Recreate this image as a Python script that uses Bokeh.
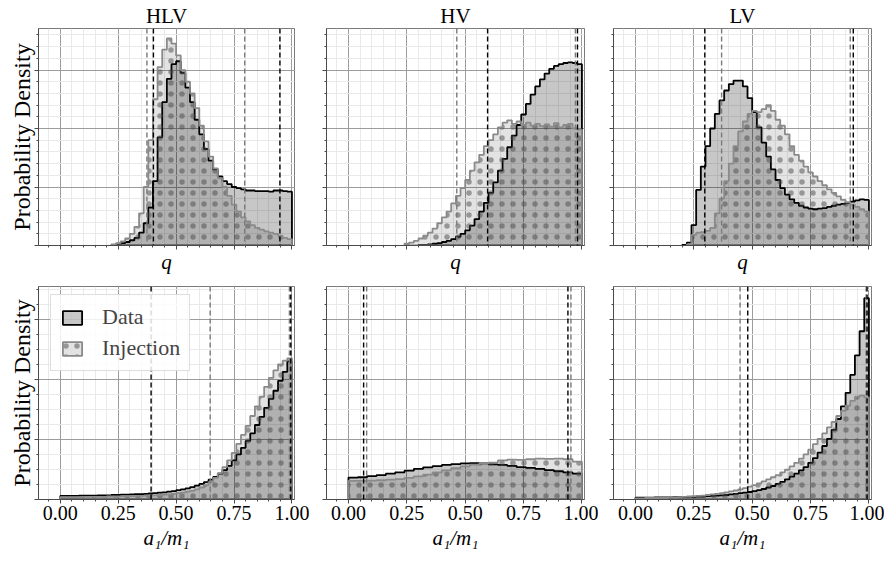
from bokeh.plotting import figure
from bokeh.layouts import row, column
from bokeh.models import (Range1d, FixedTicker, NumeralTickFormatter, Span,
                          Legend, LegendItem)
from bokeh.embed import file_html
from bokeh.resources import INLINE

FONT = "Liberation Serif"

# ---------------- data (bin heights, probability density) ----------------
Q_BIN = 0.02
A_BIN = 0.02
HV_A_BIN = 0.04

hlv_q_data = [0.02, 0.04, 0.06, 0.09, 0.13, 0.22, 0.38, 0.65, 1.10, 1.85,
              2.45, 2.85, 3.10, 3.15, 2.95, 2.70, 2.45, 2.15, 1.90, 1.65,
              1.45, 1.30, 1.18, 1.10, 1.05, 1.00, 0.98, 0.96, 0.94, 0.94,
              0.93, 0.93, 0.93, 0.92, 0.94, 0.94, 0.93, 0.92]
hlv_q_inj = [0.02, 0.04, 0.07, 0.12, 0.20, 0.32, 0.55, 1.00, 1.80, 2.50,
             3.05, 3.35, 3.54, 3.45, 3.25, 3.00, 2.80, 2.60, 2.35, 2.05,
             1.78, 1.52, 1.32, 1.15, 1.00, 0.85, 0.70, 0.58, 0.48, 0.41,
             0.35, 0.30, 0.27, 0.24, 0.22, 0.20, 0.17, 0.13, 0.11]

hv_q_data = [0.01, 0.01, 0.02, 0.03, 0.04, 0.06, 0.08, 0.11, 0.15, 0.20,
             0.26, 0.34, 0.45, 0.58, 0.73, 0.90, 1.08, 1.28, 1.48, 1.68,
             1.88, 2.06, 2.24, 2.42, 2.58, 2.72, 2.84, 2.94, 3.02, 3.07,
             3.10, 3.12, 3.13, 3.12, 3.10]
hv_q_inj = [0.03, 0.05, 0.08, 0.12, 0.17, 0.22, 0.29, 0.38, 0.48, 0.58,
            0.72, 0.85, 0.98, 1.12, 1.28, 1.42, 1.55, 1.70, 1.80, 1.90,
            2.02, 2.10, 2.14, 2.08, 2.12, 2.06, 2.10, 2.05, 2.08, 2.04,
            2.07, 2.03, 2.09, 2.02, 2.06, 2.08, 2.00, 1.98]

lv_q_data = [0.01, 0.05, 0.35, 0.95, 1.35, 1.70, 2.00, 2.25, 2.48, 2.65,
             2.76, 2.82, 2.82, 2.72, 2.52, 2.28, 2.02, 1.76, 1.52, 1.30,
             1.12, 0.98, 0.87, 0.79, 0.73, 0.68, 0.65, 0.63, 0.62, 0.63,
             0.64, 0.66, 0.68, 0.70, 0.71, 0.73, 0.75, 0.77, 0.79, 0.78]
lv_q_inj = [0.02, 0.18, 0.22, 0.23, 0.25, 0.30, 0.55, 0.80, 1.10, 1.40,
            1.70, 1.95, 2.12, 2.25, 2.30, 2.28, 2.33, 2.40, 2.30, 2.15,
            2.05, 1.90, 1.70, 1.55, 1.45, 1.35, 1.25, 1.18, 1.10, 1.03,
            0.96, 0.90, 0.84, 0.78, 0.74, 0.70, 0.66, 0.62, 0.58]

hlv_a_data = [0.12, 0.12, 0.12, 0.12, 0.13, 0.13, 0.13, 0.13, 0.14, 0.14,
              0.14, 0.15, 0.15, 0.16, 0.16, 0.17, 0.18, 0.18, 0.19, 0.20,
              0.21, 0.23, 0.24, 0.26, 0.28, 0.31, 0.34, 0.37, 0.41, 0.46,
              0.52, 0.58, 0.66, 0.75, 0.86, 0.98, 1.12, 1.30, 1.50, 1.72,
              1.95, 2.20, 2.48, 2.75, 3.05, 3.35, 3.62, 3.95, 4.25, 4.60]
hlv_a_inj = [0.08, 0.08, 0.08, 0.08, 0.08, 0.09, 0.09, 0.09, 0.09, 0.09,
             0.10, 0.10, 0.10, 0.11, 0.11, 0.11, 0.12, 0.12, 0.13, 0.13,
             0.14, 0.15, 0.16, 0.17, 0.19, 0.21, 0.23, 0.26, 0.29, 0.34,
             0.40, 0.48, 0.58, 0.72, 0.88, 1.08, 1.30, 1.55, 1.85, 2.15,
             2.45, 2.78, 3.10, 3.42, 3.75, 4.05, 4.30, 4.50, 4.62, 4.70]

hv_a_data = [0.73, 0.74, 0.78, 0.81, 0.86, 0.90, 0.96, 1.02, 1.07, 1.11,
             1.15, 1.18, 1.20, 1.21, 1.20, 1.17, 1.15, 1.12, 1.08, 1.05,
             1.02, 0.98, 0.94, 0.90, 0.86]
hv_a_inj = [0.62, 0.62, 0.63, 0.64, 0.66, 0.68, 0.72, 0.77, 0.83, 0.90,
            0.97, 1.04, 1.10, 1.16, 1.20, 1.23, 1.30, 1.33, 1.32, 1.34,
            1.36, 1.35, 1.36, 1.34, 1.26]

lv_a_data = [0.06, 0.06, 0.06, 0.06, 0.07, 0.07, 0.07, 0.07, 0.08, 0.08,
             0.08, 0.09, 0.09, 0.10, 0.10, 0.11, 0.12, 0.13, 0.14, 0.15,
             0.17, 0.19, 0.21, 0.23, 0.25, 0.28, 0.31, 0.35, 0.40, 0.45,
             0.52, 0.59, 0.67, 0.76, 0.86, 0.97, 1.08, 1.22, 1.38, 1.56,
             1.78, 2.02, 2.32, 2.68, 3.10, 3.55, 4.15, 4.80, 5.60, 6.70]
lv_a_inj = [0.04, 0.04, 0.05, 0.05, 0.05, 0.06, 0.06, 0.07, 0.07, 0.08,
            0.09, 0.10, 0.11, 0.12, 0.13, 0.15, 0.17, 0.19, 0.21, 0.24,
            0.27, 0.30, 0.34, 0.38, 0.43, 0.48, 0.54, 0.60, 0.67, 0.74,
            0.81, 0.90, 0.99, 1.10, 1.22, 1.36, 1.50, 1.66, 1.84, 2.02,
            2.20, 2.40, 2.58, 2.78, 2.95, 3.12, 3.28, 3.42, 3.46, 3.40]

# 90% credible bounds: (data lower, data upper), (injection lower, injection upper)
hlv_q_ci = [(0.402, 0.948), (0.374, 0.796)]
hv_q_ci = [(0.596, 0.981), (0.464, 0.972)]
lv_q_ci = [(0.297, 0.933), (0.369, 0.920)]
hlv_a_ci = [(0.392, 0.995), (0.647, 0.989)]
hv_a_ci = [(0.065, 0.940), (0.078, 0.953)]
lv_a_ci = [(0.481, 0.992), (0.448, 0.988)]

titles = ["HLV", "HV", "LV"]
x_ticks = [0.0, 0.25, 0.5, 0.75, 1.0]
x_minor = [-0.05 + 0.05 * i for i in range(22)]
q_yticks = [0, 1, 2, 3]
q_yminor = [0.2 * i for i in range(1, 19)]
a_yticks = [0, 2, 4, 6]
a_yminor = [0.5 * i for i in range(1, 15)]
X_RANGE = (-0.094, 1.011)
Q_YMAX = 3.71
A_YMAX = 7.09

DATA_FILL_ALPHA = 0.22
INJ_FILL_ALPHA = 0.11


def step_xy(heights, width):
    start = 1.0 - len(heights) * width
    xs, ys = [start], [0.0]
    for i, h in enumerate(heights):
        x0 = start + i * width
        xs += [x0, x0 + width]
        ys += [h, h]
    xs.append(1.0)
    ys.append(0.0)
    return xs, ys


def make_panel(data, inj, width_bin, ci, ymax, yticks, yminor, top_row, col,
               title=None, legend=False):
    bl, br = {0: (38, 15), 1: (17, 14), 2: (15, 13)}[col]
    if top_row:
        bt, bb, fh = 27, 36, 218
    else:
        bt, bb, fh = 5, 48, 218
    fw = 256 if col == 0 else 258
    p = figure(width=bl + fw + br, height=bt + fh + bb,
               x_range=Range1d(*X_RANGE), y_range=Range1d(0, ymax),
               output_backend="svg", toolbar_location=None,
               min_border_left=bl, min_border_right=br,
               min_border_top=bt, min_border_bottom=bb)
    p.background_fill_color = "white"
    p.border_fill_color = "white"
    p.outline_line_color = "#7a7a7a"
    p.outline_line_width = 1

    if title is not None:
        p.title.text = title
        p.title.align = "center"
        p.title.text_font = FONT
        p.title.text_font_size = "21px"
        p.title.text_font_style = "normal"
        p.title.text_color = "black"
        p.title.standoff = 2
        p.title.offset = 0

    p.xaxis.ticker = FixedTicker(ticks=x_ticks, minor_ticks=x_minor)
    p.yaxis.ticker = FixedTicker(ticks=yticks, minor_ticks=yminor)
    for g in (p.xgrid, p.ygrid):
        g.grid_line_color = "#9c9c9c"
        g.grid_line_width = 1
        g.minor_grid_line_color = "#e9e9e9"
        g.minor_grid_line_width = 1

    for ax in (p.xaxis, p.yaxis):
        ax.axis_line_color = "#4a4a4a"
        ax.major_tick_line_color = "#4a4a4a"
        ax.minor_tick_line_color = "#4a4a4a"
        ax.major_tick_out = 4
        ax.major_tick_in = 0
        ax.minor_tick_out = 2
        ax.minor_tick_in = 0
        ax.axis_label_text_font = FONT
        ax.major_label_text_font = FONT
        ax.axis_label_text_color = "black"
        ax.major_label_text_color = "black"

    p.yaxis.major_label_text_font_size = "0px"
    p.yaxis.major_label_standoff = 0
    p.yaxis.axis_label_standoff = 0
    if col == 0:
        p.yaxis.axis_label = "Probability Density"
        p.yaxis.axis_label_text_font_size = "24px"
        p.yaxis.axis_label_text_font_style = "normal"

    p.xaxis.formatter = NumeralTickFormatter(format="0.00")
    p.xaxis.axis_label_text_font_style = "italic"
    p.xaxis.axis_label_text_font_size = "21px"
    if top_row:
        p.xaxis.major_label_text_font_size = "0px"
        p.xaxis.major_label_standoff = 0
        p.xaxis.axis_label_standoff = 0
        p.xaxis.axis_label = "q"
    else:
        p.xaxis.major_label_text_font_size = "20px"
        p.xaxis.major_label_standoff = 2
        p.xaxis.axis_label_standoff = 3
        p.xaxis.axis_label = "a\u2081/m\u2081"

    dx, dy = step_xy(data, width_bin)
    ix, iy = step_xy(inj, width_bin)
    r_data = p.patch(dx, dy, fill_color="black", fill_alpha=DATA_FILL_ALPHA,
                     line_color="black", line_width=1.8)
    r_inj = p.patch(ix, iy, fill_color="black", fill_alpha=INJ_FILL_ALPHA,
                    line_color="#8a8a8a", line_width=1.8,
                    hatch_pattern="dot", hatch_color="#4a4a4a",
                    hatch_scale=11, hatch_alpha=0.5)

    (d_lo, d_hi), (i_lo, i_hi) = ci
    for loc in (i_lo, i_hi):
        p.add_layout(Span(location=loc, dimension="height", line_color="#7a7a7a",
                          line_dash="5 3", line_width=1.4))
    for loc in (d_lo, d_hi):
        p.add_layout(Span(location=loc, dimension="height", line_color="black",
                          line_dash="5 3", line_width=1.4))

    if legend:
        leg = Legend(items=[LegendItem(label="Data", renderers=[r_data]),
                            LegendItem(label="Injection", renderers=[r_inj])],
                     location=(12, 128))
        leg.margin = 0
        leg.padding = 9
        leg.spacing = 5
        leg.glyph_width = 24
        leg.glyph_height = 17
        leg.label_standoff = 18
        leg.label_text_font = FONT
        leg.label_text_font_size = "22px"
        leg.border_line_color = "#bdbdbd"
        leg.border_line_width = 1
        leg.background_fill_color = "white"
        leg.background_fill_alpha = 0.85
        p.add_layout(leg)
    return p


p1 = make_panel(hlv_q_data, hlv_q_inj, Q_BIN, hlv_q_ci, Q_YMAX, q_yticks, q_yminor,
                True, 0, title=titles[0])
p2 = make_panel(hv_q_data, hv_q_inj, Q_BIN, hv_q_ci, Q_YMAX, q_yticks, q_yminor,
                True, 1, title=titles[1])
p3 = make_panel(lv_q_data, lv_q_inj, Q_BIN, lv_q_ci, Q_YMAX, q_yticks, q_yminor,
                True, 2, title=titles[2])
p4 = make_panel(hlv_a_data, hlv_a_inj, A_BIN, hlv_a_ci, A_YMAX, a_yticks, a_yminor,
                False, 0, legend=True)
p5 = make_panel(hv_a_data, hv_a_inj, HV_A_BIN, hv_a_ci, A_YMAX, a_yticks, a_yminor,
                False, 1)
p6 = make_panel(lv_a_data, lv_a_inj, A_BIN, lv_a_ci, A_YMAX, a_yticks, a_yminor,
                False, 2)

layout = column(row(p1, p2, p3), row(p4, p5, p6))
open("out.html", "w").write(file_html(layout, INLINE))
